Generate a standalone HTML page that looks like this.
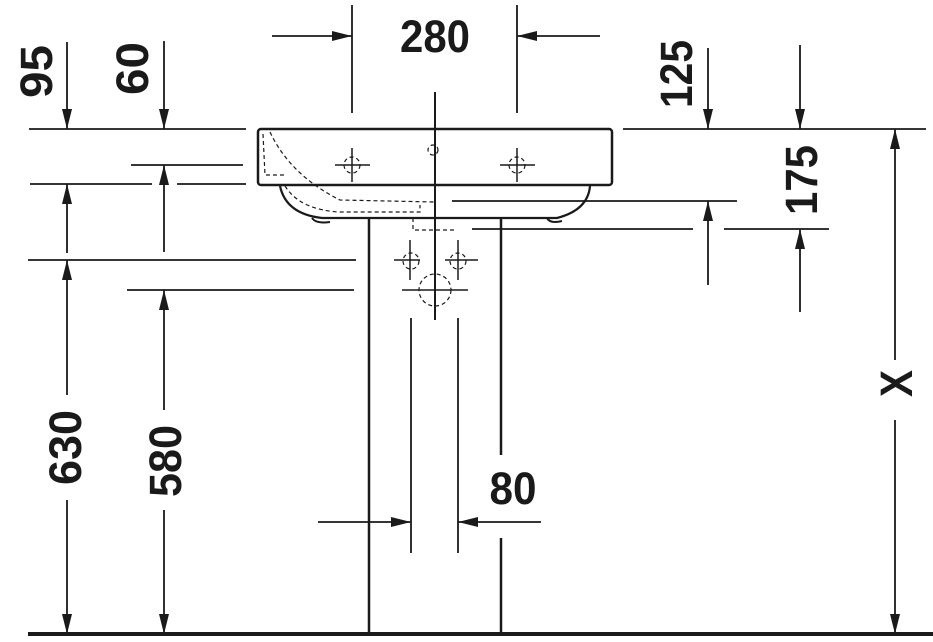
<!DOCTYPE html>
<html><head><style>
html,body{margin:0;padding:0;background:#fff;}
svg{display:block}
text{font-family:"Liberation Sans Narrow","Liberation Sans",sans-serif;font-weight:bold;fill:#1a1a1a}
</style></head><body>
<svg width="933" height="642" viewBox="0 0 933 642" xmlns="http://www.w3.org/2000/svg">
<defs>
<marker id="a" viewBox="0 0 20 10" refX="20" refY="5" markerWidth="20" markerHeight="10" markerUnits="userSpaceOnUse" orient="auto">
<path d="M0,0 L20,5 L0,10 Z" fill="#1a1a1a"/></marker>
</defs>
<g stroke="#1a1a1a" stroke-width="1.8" fill="none">
<line x1="352" y1="5" x2="352" y2="113"/>
<line x1="517" y1="5" x2="517" y2="113"/>
<line x1="272" y1="36" x2="352" y2="36" marker-end="url(#a)"/>
<line x1="600" y1="36" x2="517" y2="36" marker-end="url(#a)"/>
<line x1="29" y1="129" x2="246" y2="129"/>
<line x1="131" y1="165" x2="243" y2="165"/>
<line x1="30" y1="184" x2="152" y2="184"/>
<line x1="177" y1="184" x2="246" y2="184"/>
<line x1="28" y1="260" x2="356" y2="260"/>
<line x1="127" y1="290" x2="354" y2="290"/>
<line x1="67" y1="42" x2="67" y2="129" marker-end="url(#a)"/>
<line x1="67" y1="253" x2="67" y2="184" marker-end="url(#a)"/>
<line x1="67" y1="395" x2="67" y2="260" marker-end="url(#a)"/>
<line x1="67" y1="500" x2="67" y2="634" marker-end="url(#a)"/>
<line x1="164" y1="41" x2="164" y2="129" marker-end="url(#a)"/>
<line x1="164" y1="252" x2="164" y2="165" marker-end="url(#a)"/>
<line x1="164" y1="410" x2="164" y2="290" marker-end="url(#a)"/>
<line x1="164" y1="510" x2="164" y2="634" marker-end="url(#a)"/>
<line x1="623" y1="129" x2="926" y2="129"/>
<line x1="708" y1="48" x2="708" y2="129" marker-end="url(#a)"/>
<line x1="800" y1="45" x2="800" y2="129" marker-end="url(#a)"/>
<line x1="452" y1="201" x2="737" y2="201"/>
<line x1="472" y1="229" x2="693" y2="229"/>
<line x1="724" y1="229" x2="829" y2="229"/>
<line x1="708" y1="285" x2="708" y2="201" marker-end="url(#a)"/>
<line x1="800" y1="312" x2="800" y2="229" marker-end="url(#a)"/>
<line x1="895" y1="360" x2="895" y2="129" marker-end="url(#a)"/>
<line x1="895" y1="420" x2="895" y2="634" marker-end="url(#a)"/>
<line x1="318" y1="522" x2="411" y2="522" marker-end="url(#a)"/>
<line x1="541" y1="522" x2="458" y2="522" marker-end="url(#a)"/>
<line x1="411" y1="318" x2="411" y2="553"/>
<line x1="458" y1="318" x2="458" y2="553"/>
</g>
<line x1="28" y1="634" x2="933" y2="634" stroke="#1a1a1a" stroke-width="4"/>
<g stroke="#1a1a1a" fill="none">
<rect x="258" y="129" width="354" height="56" rx="3" stroke-width="2.5"/>
<path d="M280,186 Q286,214 322,218 L557,218 Q588,210 590,186" stroke-width="2.2"/>
<line x1="369" y1="218" x2="369" y2="634" stroke-width="2.5"/>
<line x1="501" y1="218" x2="501" y2="455" stroke-width="2.5"/>
<line x1="501" y1="538" x2="501" y2="634" stroke-width="2.5"/>
<line x1="435" y1="92" x2="435" y2="320" stroke-width="2"/>
<path d="M312,218 Q316,224 330,222 M547,218 Q550,224 562,221" stroke-width="2"/>
<g stroke-width="1.2" stroke-dasharray="4,3">
<path d="M263,134 L265,175 L285,175"/>
<path d="M270,132 Q290,175 340,200 L435,202"/>
<path d="M285,186 Q300,210 340,212 L420,212 L420,205"/>
<circle cx="352" cy="165" r="8"/>
<circle cx="517" cy="165" r="8"/>
<circle cx="433" cy="150" r="5"/>
<path d="M413,218 L413,230 L457,230"/>
<circle cx="411" cy="261" r="8"/>
<circle cx="458" cy="261" r="8"/>
<circle cx="435" cy="290" r="16"/>
<line x1="435" y1="222" x2="435" y2="320"/>
</g>
<g stroke-width="1.5">
<line x1="335" y1="165" x2="370" y2="165"/><line x1="352" y1="148" x2="352" y2="182"/>
<line x1="500" y1="165" x2="535" y2="165"/><line x1="517" y1="148" x2="517" y2="182"/>
<line x1="394" y1="260" x2="420" y2="260"/><line x1="410" y1="240" x2="410" y2="280"/>
<line x1="445" y1="260" x2="478" y2="260"/><line x1="458" y1="240" x2="458" y2="280"/>
<line x1="402" y1="290" x2="468" y2="290"/>
</g>
</g>
<text x="435" y="52" font-size="45" text-anchor="middle" textLength="70" lengthAdjust="spacingAndGlyphs">280</text>
<text x="513" y="504" font-size="45" text-anchor="middle" textLength="47" lengthAdjust="spacingAndGlyphs">80</text>
<text transform="translate(52,98) rotate(-90)" font-size="45" textLength="53" lengthAdjust="spacingAndGlyphs">95</text>
<text transform="translate(148,95) rotate(-90)" font-size="45" textLength="53" lengthAdjust="spacingAndGlyphs">60</text>
<text transform="translate(692,108) rotate(-90)" font-size="45" textLength="68" lengthAdjust="spacingAndGlyphs">125</text>
<text transform="translate(817,215) rotate(-90)" font-size="45" textLength="70" lengthAdjust="spacingAndGlyphs">175</text>
<text transform="translate(81,485) rotate(-90)" font-size="45" textLength="75" lengthAdjust="spacingAndGlyphs">630</text>
<text transform="translate(181,497) rotate(-90)" font-size="45" textLength="72" lengthAdjust="spacingAndGlyphs">580</text>
<text transform="translate(912,397) rotate(-90)" font-size="45" textLength="27" lengthAdjust="spacingAndGlyphs">X</text>
</svg>
</body></html>
